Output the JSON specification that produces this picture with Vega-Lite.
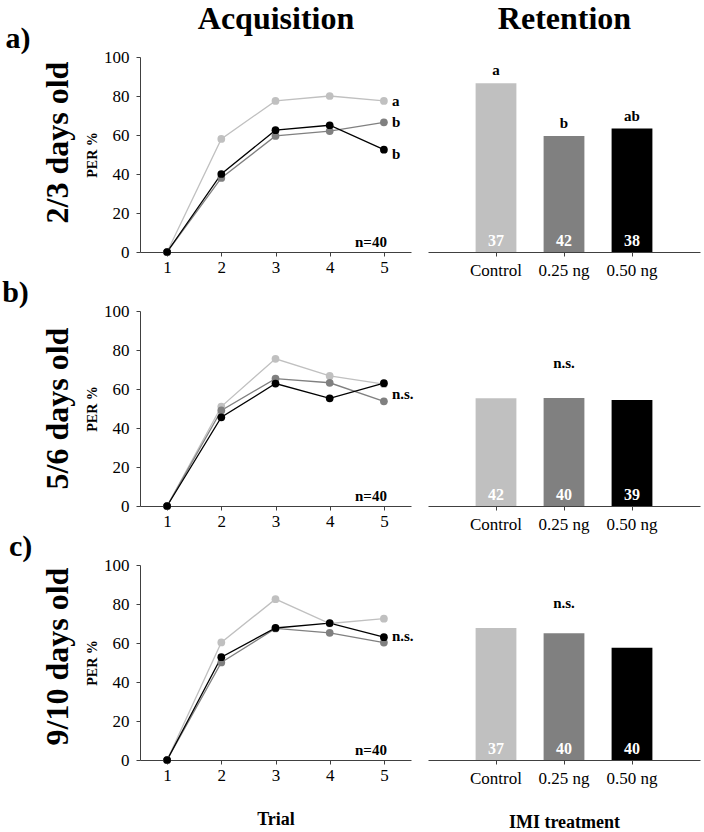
{
  "$schema": "https://vega.github.io/schema/vega-lite/v6.json",
  "padding": {"left": 2, "top": 2, "right": 4, "bottom": 2},
  "background": "white",
  "config": {
    "font": "Liberation Serif",
    "view": {"stroke": null},
    "axis": {"labelFont": "Liberation Serif", "labelFontSize": 17, "labelColor": "black", "titleFont": "Liberation Serif", "titleFontSize": 14, "titleFontWeight": "bold", "titleColor": "black", "domainColor": "#404040", "tickColor": "#404040", "tickSize": 4, "grid": false, "labelPadding": 3, "labelOverlap": false, "labelFlush": false},
    "title": {"font": "Liberation Serif", "color": "black", "fontWeight": "bold"},
    "text": {"font": "Liberation Serif"}
  },
  "datasets": {
    "lines": [
      {"age": "a", "trial": 1, "treat": "Control", "per": 0},
      {"age": "a", "trial": 2, "treat": "Control", "per": 58},
      {"age": "a", "trial": 3, "treat": "Control", "per": 77.5},
      {"age": "a", "trial": 4, "treat": "Control", "per": 80},
      {"age": "a", "trial": 5, "treat": "Control", "per": 77.5},
      {"age": "a", "trial": 1, "treat": "0.25 ng", "per": 0},
      {"age": "a", "trial": 2, "treat": "0.25 ng", "per": 38},
      {"age": "a", "trial": 3, "treat": "0.25 ng", "per": 59.5},
      {"age": "a", "trial": 4, "treat": "0.25 ng", "per": 62},
      {"age": "a", "trial": 5, "treat": "0.25 ng", "per": 66.5},
      {"age": "a", "trial": 1, "treat": "0.50 ng", "per": 0},
      {"age": "a", "trial": 2, "treat": "0.50 ng", "per": 40},
      {"age": "a", "trial": 3, "treat": "0.50 ng", "per": 62.5},
      {"age": "a", "trial": 4, "treat": "0.50 ng", "per": 65},
      {"age": "a", "trial": 5, "treat": "0.50 ng", "per": 52.5},
      {"age": "b", "trial": 1, "treat": "Control", "per": 0},
      {"age": "b", "trial": 2, "treat": "Control", "per": 51},
      {"age": "b", "trial": 3, "treat": "Control", "per": 75.5},
      {"age": "b", "trial": 4, "treat": "Control", "per": 66.7},
      {"age": "b", "trial": 5, "treat": "Control", "per": 62.5},
      {"age": "b", "trial": 1, "treat": "0.25 ng", "per": 0},
      {"age": "b", "trial": 2, "treat": "0.25 ng", "per": 49},
      {"age": "b", "trial": 3, "treat": "0.25 ng", "per": 65.3},
      {"age": "b", "trial": 4, "treat": "0.25 ng", "per": 63.2},
      {"age": "b", "trial": 5, "treat": "0.25 ng", "per": 53.7},
      {"age": "b", "trial": 1, "treat": "0.50 ng", "per": 0},
      {"age": "b", "trial": 2, "treat": "0.50 ng", "per": 45.5},
      {"age": "b", "trial": 3, "treat": "0.50 ng", "per": 62.8},
      {"age": "b", "trial": 4, "treat": "0.50 ng", "per": 55.2},
      {"age": "b", "trial": 5, "treat": "0.50 ng", "per": 63},
      {"age": "c", "trial": 1, "treat": "Control", "per": 0},
      {"age": "c", "trial": 2, "treat": "Control", "per": 60.3},
      {"age": "c", "trial": 3, "treat": "Control", "per": 82.5},
      {"age": "c", "trial": 4, "treat": "Control", "per": 70},
      {"age": "c", "trial": 5, "treat": "Control", "per": 72.5},
      {"age": "c", "trial": 1, "treat": "0.25 ng", "per": 0},
      {"age": "c", "trial": 2, "treat": "0.25 ng", "per": 50},
      {"age": "c", "trial": 3, "treat": "0.25 ng", "per": 67.5},
      {"age": "c", "trial": 4, "treat": "0.25 ng", "per": 65.2},
      {"age": "c", "trial": 5, "treat": "0.25 ng", "per": 60.2},
      {"age": "c", "trial": 1, "treat": "0.50 ng", "per": 0},
      {"age": "c", "trial": 2, "treat": "0.50 ng", "per": 52.7},
      {"age": "c", "trial": 3, "treat": "0.50 ng", "per": 67.7},
      {"age": "c", "trial": 4, "treat": "0.50 ng", "per": 70.2},
      {"age": "c", "trial": 5, "treat": "0.50 ng", "per": 63}
    ],
    "lineNotes": [
      {"age": "a", "trial": 5, "per": 77.5, "label": "a"},
      {"age": "a", "trial": 5, "per": 66.5, "label": "b"},
      {"age": "a", "trial": 5, "per": 50.5, "label": "b"},
      {"age": "b", "trial": 5, "per": 57.5, "label": "n.s."},
      {"age": "c", "trial": 5, "per": 63.5, "label": "n.s."}
    ],
    "nNotes": [
      {"age": "a", "trial": 5, "per": 0, "label": "n=40"},
      {"age": "b", "trial": 5, "per": 0, "label": "n=40"},
      {"age": "c", "trial": 5, "per": 0, "label": "n=40"}
    ],
    "bars": [
      {"age": "a", "treat": "Control", "per": 86.5, "n": 37},
      {"age": "a", "treat": "0.25 ng", "per": 59.5, "n": 42},
      {"age": "a", "treat": "0.50 ng", "per": 63.3, "n": 38},
      {"age": "b", "treat": "Control", "per": 55.2, "n": 42},
      {"age": "b", "treat": "0.25 ng", "per": 55.4, "n": 40},
      {"age": "b", "treat": "0.50 ng", "per": 54.4, "n": 39},
      {"age": "c", "treat": "Control", "per": 67.7, "n": 37},
      {"age": "c", "treat": "0.25 ng", "per": 65, "n": 40},
      {"age": "c", "treat": "0.50 ng", "per": 57.6, "n": 40}
    ],
    "barNotes": [
      {"age": "a", "treat": "Control", "per": 86.5, "label": "a"},
      {"age": "a", "treat": "0.25 ng", "per": 59.5, "label": "b"},
      {"age": "a", "treat": "0.50 ng", "per": 63.3, "label": "ab"},
      {"age": "b", "treat": "0.25 ng", "per": 66.7, "label": "n.s."},
      {"age": "c", "treat": "0.25 ng", "per": 73.8, "label": "n.s."}
    ]
  },
  "spacing": 0,
  "vconcat": [
    {
      "title": {"text": "a)", "orient": "left", "angle": 0, "anchor": "end", "frame": "group", "align": "right", "baseline": "bottom", "fontSize": 30, "offset": -14, "dy": -3},
      "bounds": "flush",
      "spacing": 17,
      "hconcat": [
        {
          "width": 271, "height": 195,
          "title": {"text": "2/3 days old", "orient": "left", "fontSize": 32, "offset": 11, "dx": 12},
          "resolve": {"axis": {"x": "independent"}},
          "layer": [
            {"layer": [
              {"data": {"name": "lines"}, "transform": [{"filter": "datum.age === 'a'"}],
               "mark": {"type": "line", "strokeWidth": 1.3},
               "encoding": {
                 "x": {"field": "trial", "type": "quantitative", "scale": {"domain": [0.5, 5.5], "nice": false, "zero": false}, "axis": {"values": [1, 2, 3, 4, 5], "title": null}},
                 "y": {"field": "per", "type": "quantitative", "scale": {"domain": [0, 100]}, "axis": {"values": [0, 20, 40, 60, 80, 100], "tickCount": 6, "labelOverlap": false, "title": "PER %", "labelPadding": 7, "titlePadding": 4}},
                 "color": {"field": "treat", "type": "nominal", "scale": {"domain": ["Control", "0.25 ng", "0.50 ng"], "range": ["#c0c0c0", "#808080", "#000000"]}, "legend": null}
               }},
              {"data": {"name": "lines"}, "transform": [{"filter": "datum.age === 'a'"}],
               "mark": {"type": "circle", "size": 60, "opacity": 1},
               "encoding": {
                 "x": {"field": "trial", "type": "quantitative"},
                 "y": {"field": "per", "type": "quantitative"},
                 "color": {"field": "treat", "type": "nominal", "legend": null}
               }}
            ]},
            {"data": {"name": "lineNotes"}, "transform": [{"filter": "datum.age === 'a'"}],
             "mark": {"type": "text", "align": "left", "baseline": "middle", "dx": 8, "fontSize": 15, "fontWeight": "bold", "color": "black"},
             "encoding": {
               "x": {"field": "trial", "type": "quantitative", "axis": {"orient": "top", "title": "Acquisition", "titleFontSize": 32, "titlePadding": 22, "labels": false, "ticks": false, "domain": false}},
               "y": {"field": "per", "type": "quantitative"},
               "text": {"field": "label"}
             }},
            {"data": {"name": "nNotes"}, "transform": [{"filter": "datum.age === 'a'"}],
             "mark": {"type": "text", "align": "right", "baseline": "bottom", "dx": 3, "dy": -2, "fontSize": 15, "fontWeight": "bold", "color": "black"},
             "encoding": {
               "x": {"field": "trial", "type": "quantitative", "axis": null},
               "y": {"field": "per", "type": "quantitative"},
               "text": {"field": "label"}
             }}
          ]
        },
        {
          "width": 272, "height": 195,
          "resolve": {"axis": {"x": "independent"}},
          "layer": [
            {"data": {"name": "bars"}, "transform": [{"filter": "datum.age === 'a'"}],
             "layer": [
              {"mark": {"type": "bar"},
               "encoding": {
                 "x": {"field": "treat", "type": "nominal", "sort": ["Control", "0.25 ng", "0.50 ng"], "scale": {"paddingInner": 0.4, "paddingOuter": 0.7}, "axis": {"labelAngle": 0, "title": null, "labelPadding": 6}},
                 "y": {"field": "per", "type": "quantitative", "scale": {"domain": [0, 100]}, "axis": {"values": [0, 20, 40, 60, 80, 100], "tickCount": 6, "labels": false, "title": null}},
                 "color": {"field": "treat", "type": "nominal", "scale": {"domain": ["Control", "0.25 ng", "0.50 ng"], "range": ["#c0c0c0", "#808080", "#000000"]}, "legend": null}
               }},
              {"mark": {"type": "text", "baseline": "bottom", "dy": -3, "fontSize": 16, "fontWeight": "bold", "color": "white"},
               "encoding": {
                 "x": {"field": "treat", "type": "nominal", "sort": ["Control", "0.25 ng", "0.50 ng"]},
                 "y": {"datum": 0, "axis": null},
                 "text": {"field": "n"}
               }}
             ]},
            {"data": {"name": "barNotes"}, "transform": [{"filter": "datum.age === 'a'"}],
             "mark": {"type": "text", "baseline": "bottom", "dy": -5, "fontSize": 15, "fontWeight": "bold", "color": "black"},
             "encoding": {
               "x": {"field": "treat", "type": "nominal", "sort": ["Control", "0.25 ng", "0.50 ng"], "axis": {"orient": "top", "title": "Retention", "titleFontSize": 32, "titlePadding": 22, "labels": false, "ticks": false, "domain": false}},
               "y": {"field": "per", "type": "quantitative", "axis": null},
               "text": {"field": "label"}
             }}
          ]
        }
      ]
    },
    {
      "title": {"text": "b)", "orient": "left", "angle": 0, "anchor": "end", "frame": "group", "align": "right", "baseline": "bottom", "fontSize": 30, "offset": -14, "dy": -3},
      "bounds": "flush",
      "spacing": 17,
      "hconcat": [
        {
          "width": 271, "height": 195,
          "title": {"text": "5/6 days old", "orient": "left", "fontSize": 32, "offset": 11},
          "layer": [
            {"data": {"name": "lines"}, "transform": [{"filter": "datum.age === 'b'"}],
             "mark": {"type": "line", "strokeWidth": 1.3},
             "encoding": {
               "x": {"field": "trial", "type": "quantitative", "scale": {"domain": [0.5, 5.5], "nice": false, "zero": false}, "axis": {"values": [1, 2, 3, 4, 5], "title": null}},
               "y": {"field": "per", "type": "quantitative", "scale": {"domain": [0, 100]}, "axis": {"values": [0, 20, 40, 60, 80, 100], "tickCount": 6, "labelOverlap": false, "title": "PER %", "labelPadding": 7, "titlePadding": 4}},
               "color": {"field": "treat", "type": "nominal", "scale": {"domain": ["Control", "0.25 ng", "0.50 ng"], "range": ["#c0c0c0", "#808080", "#000000"]}, "legend": null}
             }},
            {"data": {"name": "lines"}, "transform": [{"filter": "datum.age === 'b'"}],
             "mark": {"type": "circle", "size": 60, "opacity": 1},
             "encoding": {
               "x": {"field": "trial", "type": "quantitative"},
               "y": {"field": "per", "type": "quantitative"},
               "color": {"field": "treat", "type": "nominal", "legend": null}
             }},
            {"data": {"name": "lineNotes"}, "transform": [{"filter": "datum.age === 'b'"}],
             "mark": {"type": "text", "align": "left", "baseline": "middle", "dx": 8, "fontSize": 15, "fontWeight": "bold", "color": "black"},
             "encoding": {
               "x": {"field": "trial", "type": "quantitative"},
               "y": {"field": "per", "type": "quantitative"},
               "text": {"field": "label"}
             }},
            {"data": {"name": "nNotes"}, "transform": [{"filter": "datum.age === 'b'"}],
             "mark": {"type": "text", "align": "right", "baseline": "bottom", "dx": 3, "dy": -2, "fontSize": 15, "fontWeight": "bold", "color": "black"},
             "encoding": {
               "x": {"field": "trial", "type": "quantitative"},
               "y": {"field": "per", "type": "quantitative"},
               "text": {"field": "label"}
             }}
          ]
        },
        {
          "width": 272, "height": 195,
          "layer": [
            {"data": {"name": "bars"}, "transform": [{"filter": "datum.age === 'b'"}],
             "layer": [
              {"mark": {"type": "bar"},
               "encoding": {
                 "x": {"field": "treat", "type": "nominal", "sort": ["Control", "0.25 ng", "0.50 ng"], "scale": {"paddingInner": 0.4, "paddingOuter": 0.7}, "axis": {"labelAngle": 0, "title": null, "labelPadding": 6}},
                 "y": {"field": "per", "type": "quantitative", "scale": {"domain": [0, 100]}, "axis": {"values": [0, 20, 40, 60, 80, 100], "tickCount": 6, "labels": false, "title": null}},
                 "color": {"field": "treat", "type": "nominal", "scale": {"domain": ["Control", "0.25 ng", "0.50 ng"], "range": ["#c0c0c0", "#808080", "#000000"]}, "legend": null}
               }},
              {"mark": {"type": "text", "baseline": "bottom", "dy": -3, "fontSize": 16, "fontWeight": "bold", "color": "white"},
               "encoding": {
                 "x": {"field": "treat", "type": "nominal", "sort": ["Control", "0.25 ng", "0.50 ng"]},
                 "y": {"datum": 0, "axis": null},
                 "text": {"field": "n"}
               }}
             ]},
            {"data": {"name": "barNotes"}, "transform": [{"filter": "datum.age === 'b'"}],
             "mark": {"type": "text", "baseline": "bottom", "dy": -5, "fontSize": 15, "fontWeight": "bold", "color": "black"},
             "encoding": {
               "x": {"field": "treat", "type": "nominal", "sort": ["Control", "0.25 ng", "0.50 ng"]},
               "y": {"field": "per", "type": "quantitative", "axis": null},
               "text": {"field": "label"}
             }}
          ]
        }
      ]
    },
    {
      "title": {"text": "c)", "orient": "left", "angle": 0, "anchor": "end", "frame": "group", "align": "right", "baseline": "bottom", "fontSize": 30, "offset": -14, "dy": -3},
      "bounds": "flush",
      "spacing": 17,
      "hconcat": [
        {
          "width": 271, "height": 195,
          "title": {"text": "9/10 days old", "orient": "left", "fontSize": 32, "offset": 11, "dx": 6},
          "layer": [
            {"data": {"name": "lines"}, "transform": [{"filter": "datum.age === 'c'"}],
             "mark": {"type": "line", "strokeWidth": 1.3},
             "encoding": {
               "x": {"field": "trial", "type": "quantitative", "scale": {"domain": [0.5, 5.5], "nice": false, "zero": false}, "axis": {"values": [1, 2, 3, 4, 5], "title": "Trial", "titleFontSize": 18, "titlePadding": 27}},
               "y": {"field": "per", "type": "quantitative", "scale": {"domain": [0, 100]}, "axis": {"values": [0, 20, 40, 60, 80, 100], "tickCount": 6, "labelOverlap": false, "title": "PER %", "labelPadding": 7, "titlePadding": 4}},
               "color": {"field": "treat", "type": "nominal", "scale": {"domain": ["Control", "0.25 ng", "0.50 ng"], "range": ["#c0c0c0", "#808080", "#000000"]}, "legend": null}
             }},
            {"data": {"name": "lines"}, "transform": [{"filter": "datum.age === 'c'"}],
             "mark": {"type": "circle", "size": 60, "opacity": 1},
             "encoding": {
               "x": {"field": "trial", "type": "quantitative"},
               "y": {"field": "per", "type": "quantitative"},
               "color": {"field": "treat", "type": "nominal", "legend": null}
             }},
            {"data": {"name": "lineNotes"}, "transform": [{"filter": "datum.age === 'c'"}],
             "mark": {"type": "text", "align": "left", "baseline": "middle", "dx": 8, "fontSize": 15, "fontWeight": "bold", "color": "black"},
             "encoding": {
               "x": {"field": "trial", "type": "quantitative"},
               "y": {"field": "per", "type": "quantitative"},
               "text": {"field": "label"}
             }},
            {"data": {"name": "nNotes"}, "transform": [{"filter": "datum.age === 'c'"}],
             "mark": {"type": "text", "align": "right", "baseline": "bottom", "dx": 3, "dy": -2, "fontSize": 15, "fontWeight": "bold", "color": "black"},
             "encoding": {
               "x": {"field": "trial", "type": "quantitative"},
               "y": {"field": "per", "type": "quantitative"},
               "text": {"field": "label"}
             }}
          ]
        },
        {
          "width": 272, "height": 195,
          "layer": [
            {"data": {"name": "bars"}, "transform": [{"filter": "datum.age === 'c'"}],
             "layer": [
              {"mark": {"type": "bar"},
               "encoding": {
                 "x": {"field": "treat", "type": "nominal", "sort": ["Control", "0.25 ng", "0.50 ng"], "scale": {"paddingInner": 0.4, "paddingOuter": 0.7}, "axis": {"labelAngle": 0, "title": "IMI treatment", "titleFontSize": 18, "titlePadding": 27, "labelPadding": 6}},
                 "y": {"field": "per", "type": "quantitative", "scale": {"domain": [0, 100]}, "axis": {"values": [0, 20, 40, 60, 80, 100], "tickCount": 6, "labels": false, "title": null}},
                 "color": {"field": "treat", "type": "nominal", "scale": {"domain": ["Control", "0.25 ng", "0.50 ng"], "range": ["#c0c0c0", "#808080", "#000000"]}, "legend": null}
               }},
              {"mark": {"type": "text", "baseline": "bottom", "dy": -3, "fontSize": 16, "fontWeight": "bold", "color": "white"},
               "encoding": {
                 "x": {"field": "treat", "type": "nominal", "sort": ["Control", "0.25 ng", "0.50 ng"]},
                 "y": {"datum": 0, "axis": null},
                 "text": {"field": "n"}
               }}
             ]},
            {"data": {"name": "barNotes"}, "transform": [{"filter": "datum.age === 'c'"}],
             "mark": {"type": "text", "baseline": "bottom", "dy": -5, "fontSize": 15, "fontWeight": "bold", "color": "black"},
             "encoding": {
               "x": {"field": "treat", "type": "nominal", "sort": ["Control", "0.25 ng", "0.50 ng"]},
               "y": {"field": "per", "type": "quantitative", "axis": null},
               "text": {"field": "label"}
             }}
          ]
        }
      ]
    }
  ]
}
